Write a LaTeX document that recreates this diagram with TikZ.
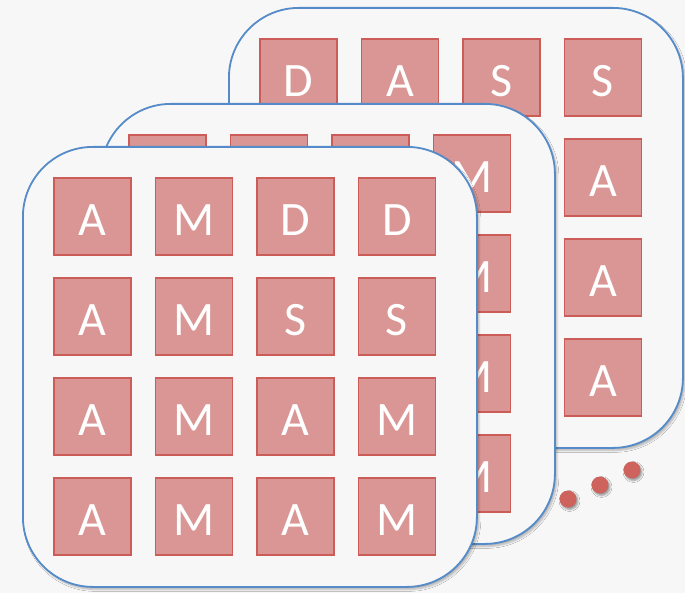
\documentclass[tikz,border=0pt]{standalone}
\usepackage{fontspec}
\setmainfont{Carlito}
\usetikzlibrary{shadows.blur}
\definecolor{bg}{RGB}{247,247,247}
\definecolor{sqfill}{RGB}{217,150,148}
\definecolor{sqline}{RGB}{204,92,87}
\definecolor{panelline}{RGB}{84,139,200}
\definecolor{dotred}{RGB}{206,98,92}
\tikzset{
  panel/.style={draw=panelline, line width=1.8pt, fill=bg, rounded corners=70pt,
    minimum width=454pt, minimum height=440pt, anchor=north west, inner sep=0pt,
    blur shadow={shadow xshift=2pt, shadow yshift=-2.5pt, shadow blur steps=6, shadow opacity=28}},
  sq/.style={draw=sqline, line width=1.8pt, fill=sqfill, minimum size=77pt, inner sep=0pt,
    anchor=north west, text=white, font=\fontsize{48}{48}\selectfont,
    text height=39pt, text depth=0pt},
  dotc/.style={circle, fill=dotred, minimum size=17pt, inner sep=0pt,
    blur shadow={shadow xshift=1.5pt, shadow yshift=-2pt, shadow blur steps=4, shadow opacity=40}}
}
\begin{document}
\begin{tikzpicture}[x=1pt,y=-1pt]
\fill[bg] (0,0) rectangle (685,593);
\useasboundingbox (0,0) rectangle (685,593);
% back panel
\node[panel] (backpanel) at (228,7) {};
\foreach \r/\c/\t in {0/0/D,0/1/A,0/2/S,0/3/S,1/3/A,2/3/A,3/3/A}
  \node[sq] (b-\r-\c) at ({259+101.5*\c},{38+100*\r}) {\t};
% middle panel
\node[panel] (midpanel) at (100,103) {};
\foreach \r/\c/\t in {0/0/{},0/1/{},0/2/{},0/3/M,1/3/M,2/3/M,3/3/M}
  \node[sq] (m-\r-\c) at ({128+101.5*\c},{134+100*\r}) {\t};
% front panel
\node[panel] (frontpanel) at (22,146) {};
\foreach \r/\c/\t in {0/0/A,0/1/M,0/2/D,0/3/D,1/0/A,1/1/M,1/2/S,1/3/S,2/0/A,2/1/M,2/2/A,2/3/M,3/0/A,3/1/M,3/2/A,3/3/M}
  \node[sq] (f-\r-\c) at ({53+101.5*\c},{177+100*\r}) {\t};
% dots
\node[dotc] (d1) at (568,499) {};
\node[dotc] (d2) at (600,485) {};
\node[dotc] (d3) at (632,470) {};
\end{tikzpicture}
\end{document}
